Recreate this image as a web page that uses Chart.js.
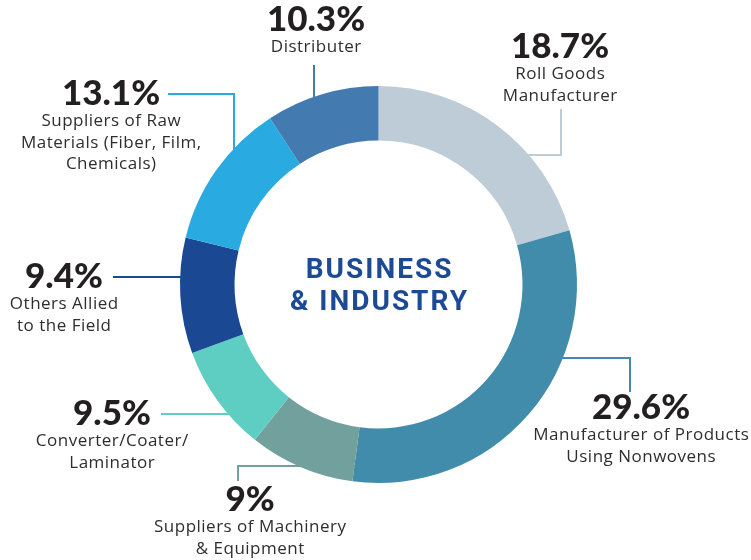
<!DOCTYPE html>
<html>
<head>
  <title>Business & Industry</title>
  <script src="https://cdn.jsdelivr.net/npm/chart.js"></script>
  <style>
    html, body {
      margin: 0;
      padding: 0;
      background: #ffffff;
    }
    #chart-wrapper {
      position: relative;
      width: 751px;
      height: 560px;
    }
  </style>
</head>
<body>
<div id="chart-wrapper">
  <canvas id="chart" width="751" height="560"></canvas>
</div>

<script>
  // data, clockwise from 12 o'clock
  const categories = [
    ['Roll Goods', 'Manufacturer'],
    ['Manufacturer of Products', 'Using Nonwovens'],
    ['Suppliers of Machinery', '& Equipment'],
    ['Converter/Coater/', 'Laminator'],
    ['Others Allied', 'to the Field'],
    ['Suppliers of Raw', 'Materials (Fiber, Film,', 'Chemicals)'],
    ['Distributer']
  ];
  // percentages printed in the callouts
  const shares = [18.7, 29.6, 9, 9.5, 9.4, 13.1, 10.3];
  // slice sizes as actually drawn in the picture (% of the ring)
  const arcShares = [20.6, 31.5, 8.6, 8.7, 9.4, 12.0, 9.2];
  const segmentColors = ['#bdccd6', '#418cab', '#72a09c', '#5ecec3', '#1a4893', '#29abe2', '#437bb0'];
  const centerTitle = ['BUSINESS', '& INDUSTRY'];

  // where each callout sits: text centre, then the leader path (last leg runs into the ring)
  const callouts = [
    { x: 560, y: 47,  path: [[561, 109], [561, 155]], leg: 'h' },
    { x: 641, y: 408, path: [[630, 392], [630, 358]], leg: 'h' },
    { x: 250, y: 500, path: [[238, 481], [238, 466]], leg: 'h' },
    { x: 112, y: 414, path: [[161, 414]], leg: 'h' },
    { x: 64,  y: 277, path: [[113, 277]], leg: 'h' },
    { x: 111, y: 94,  path: [[168, 94], [234, 94]], leg: 'v' },
    { x: 316, y: 20,  path: [[314, 65]], leg: 'v' }
  ];

  const calloutPlugin = {
    id: 'callouts',
    beforeDatasetsDraw(chart) {
      const ctx = chart.ctx;
      const arc = chart.getDatasetMeta(0).data[0];
      const cx = arc.x, cy = arc.y;
      const rMid = (arc.outerRadius + arc.innerRadius) / 2;
      ctx.save();
      ctx.lineWidth = 2;
      callouts.forEach((c, i) => {
        const pts = c.path.slice();
        const last = pts[pts.length - 1];
        let end;
        if (c.leg === 'h') {
          const dx = Math.sqrt(Math.max(rMid * rMid - (last[1] - cy) ** 2, 0));
          end = [last[0] < cx ? cx - dx : cx + dx, last[1]];
        } else {
          const dy = Math.sqrt(Math.max(rMid * rMid - (last[0] - cx) ** 2, 0));
          end = [last[0], last[1] < cy ? cy - dy : cy + dy];
        }
        pts.push(end);
        ctx.strokeStyle = segmentColors[i];
        ctx.beginPath();
        pts.forEach((p, k) => k === 0 ? ctx.moveTo(p[0], p[1]) : ctx.lineTo(p[0], p[1]));
        ctx.stroke();
      });
      ctx.restore();
    },
    afterDatasetsDraw(chart) {
      const ctx = chart.ctx;
      const arc = chart.getDatasetMeta(0).data[0];
      ctx.save();
      ctx.textAlign = 'center';
      ctx.textBaseline = 'middle';

      callouts.forEach((c, i) => {
        ctx.fillStyle = '#231f20';
        ctx.letterSpacing = '0px';
        ctx.font = '900 35px Lato';
        ctx.fillText(shares[i] + '%', c.x, c.y);
        ctx.fillStyle = '#2e2e2e';
        ctx.font = '17px "Open Sans"';
        ctx.letterSpacing = '0.5px';
        categories[i].forEach((line, k) => {
          ctx.fillText(line, c.x + 0.25, c.y + 27.5 + k * 21.5);
        });
      });

      ctx.fillStyle = '#1d4a95';
      ctx.font = 'bold 28px Roboto';
      ctx.letterSpacing = '2px';
      ctx.fillText(centerTitle[0], arc.x + 1, arc.y - 13.5);
      ctx.fillText(centerTitle[1], arc.x + 1, arc.y + 18);
      ctx.restore();
    }
  };

  const chart = new Chart(document.getElementById('chart'), {
    type: 'doughnut',
    data: {
      labels: categories.map(l => l.join(' ')),
      datasets: [{
        data: arcShares,
        backgroundColor: segmentColors,
        borderWidth: 0,
        hoverOffset: 0
      }]
    },
    options: {
      responsive: false,
      animation: false,
      radius: 198.5,
      cutout: 144,
      rotation: 0,
      layout: {
        padding: { left: 180, right: 174, top: 86, bottom: 77 }
      },
      plugins: {
        legend: { display: false },
        tooltip: { enabled: false }
      },
      events: []
    },
    plugins: [calloutPlugin]
  });
</script>
</body>
</html>
